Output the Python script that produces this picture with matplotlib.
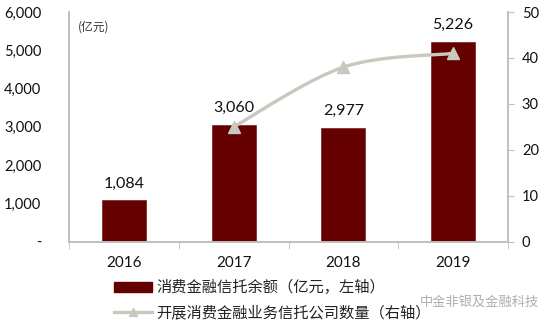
import numpy as np
import matplotlib.pyplot as plt
from matplotlib.path import Path
from matplotlib.patches import PathPatch, Patch
from matplotlib.lines import Line2D
from matplotlib.ticker import FuncFormatter

plt.rcParams['font.family'] = ['Lato', 'Noto Sans CJK SC', 'DejaVu Sans']

years = ['2016', '2017', '2018', '2019']
balance = [1084, 3060, 2977, 5226]          # 亿元, left axis
company_years = [1, 2, 3]                   # index into years
company_count = [25, 38, 41]                # right axis

bar_color = '#640000'
line_color = '#C8C8BE'
spine_color = '#BFBFBF'
cjk = ['Noto Sans CJK SC', 'DejaVu Sans']


def smooth_path(xs, ys):
    # Catmull-Rom style bezier through the points, like a smoothed spreadsheet line
    pts = np.column_stack([xs, ys]).astype(float)
    ext = np.vstack([pts[0], pts, pts[-1]])
    verts = [tuple(pts[0])]
    codes = [Path.MOVETO]
    for i in range(1, len(ext) - 2):
        p0, p1, p2, p3 = ext[i - 1], ext[i], ext[i + 1], ext[i + 2]
        c1 = p1 + (p2 - p0) / 6
        c2 = p2 - (p3 - p1) / 6
        verts += [tuple(c1), tuple(c2), tuple(p2)]
        codes += [Path.CURVE4] * 3
    return Path(verts, codes)


fig = plt.figure(figsize=(5.5, 3.27), dpi=100)
ax = fig.add_axes([0.1255, 0.2609, 0.7981, 0.7024])
ax2 = ax.twinx()

x = np.arange(len(years))
ax.bar(x, balance, width=0.4, color=bar_color, edgecolor='#7A2020', linewidth=0.5, zorder=2)
for xi, v in zip(x, balance):
    ax.text(xi, v + 250, f'{v:,}', ha='center', va='bottom', fontsize=11.5, color='#111111')

ax.set_xlim(-0.5, len(years) - 0.5)
ax.set_ylim(0, 6000)
ax.set_yticks(np.arange(0, 6001, 1000))
ax.yaxis.set_major_formatter(FuncFormatter(lambda v, p: '-' if v == 0 else f'{v:,.0f}'))
ax.tick_params(axis='y', length=0, pad=20, labelsize=10.5, colors='#111111')
ax.set_xticks(x)
ax.set_xticklabels(years)
ax.set_xticks(np.arange(-0.5, len(years), 1.0), minor=True)
ax.tick_params(axis='x', which='major', length=0, pad=10, labelsize=11, colors='#111111')
ax.tick_params(axis='x', which='minor', length=5, color=spine_color, direction='out')

for a in (ax, ax2):
    a.spines['top'].set_visible(False)
    for s in ('left', 'right', 'bottom'):
        a.spines[s].set_color(spine_color)
        a.spines[s].set_linewidth(1.2)

ax.text(-0.42, 5620, '(亿元)', fontsize=8.5, family=cjk, color='#333333', va='center')

# right axis: number of trust companies
ax2.set_ylim(0, 50)
ax2.set_yticks(np.arange(0, 51, 10))
ax2.tick_params(axis='y', length=4, color=spine_color, pad=6, labelsize=10.5, labelcolor='#111111')
cx = [x[i] for i in company_years]
ax2.add_patch(PathPatch(smooth_path(cx, company_count), facecolor='none',
                        edgecolor=line_color, linewidth=2.4, zorder=3))
ax2.plot(cx, company_count, linestyle='none', marker='^', markersize=8,
         color=line_color, zorder=4)

handles = [Patch(facecolor=bar_color, edgecolor=bar_color),
           Line2D([], [], color=line_color, linewidth=2.4, marker='^', markersize=6)]
labels = ['消费金融信托余额（亿元，左轴）', '开展消费金融业务信托公司数量（右轴）']
fig.legend(handles, labels, loc='upper left', bbox_to_anchor=(0.207, 0.146),
           frameon=False, prop={'family': cjk, 'size': 11}, handlelength=2.5,
           handleheight=0.6, handletextpad=0.3, labelspacing=0.5,
           borderpad=0, borderaxespad=0, labelcolor='#222222')

fig.text(0.98, 0.077, '中金非银及金融科技', ha='right', va='center', fontsize=9.5,
         family=cjk, color='#A0A0A0', alpha=0.85)

fig.savefig('out.png', dpi=100)
